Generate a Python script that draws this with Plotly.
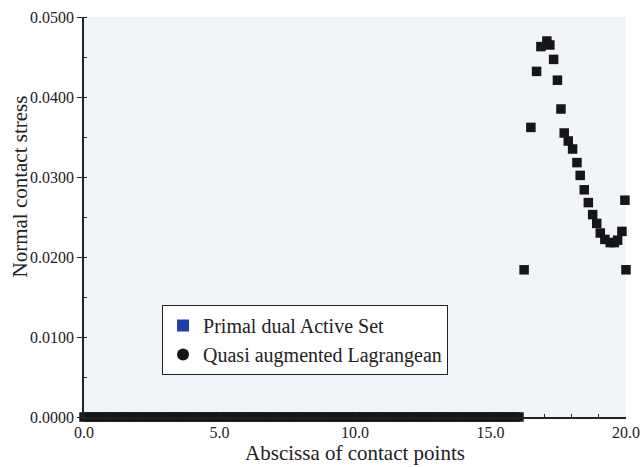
import plotly.graph_objects as go

# Data
zero_x = [round(i * 0.15, 2) for i in range(0, 108)]  # contact points with zero stress, 0..16.05
zero_y = [0.0] * len(zero_x)
peak_x = [16.24, 16.49, 16.70, 16.86, 17.08, 17.19, 17.33, 17.47, 17.60, 17.72,
          17.87, 18.03, 18.19, 18.31, 18.46, 18.61, 18.77, 18.92, 19.05, 19.22,
          19.42, 19.57, 19.69, 19.85, 19.96, 20.0]
peak_y = [0.0184, 0.0362, 0.0432, 0.0463, 0.0470, 0.0465, 0.0447, 0.0421, 0.0385, 0.0355,
          0.0345, 0.0335, 0.0318, 0.0302, 0.0284, 0.0268, 0.0253, 0.0242, 0.0230, 0.0222,
          0.0218, 0.0218, 0.0221, 0.0232, 0.0271, 0.0184]
x_vals = zero_x + peak_x
y_vals = zero_y + peak_y

x_ticks = [0, 5, 10, 15, 20]
x_tick_labels = ["0.0", "5.0", "10.0", "15.0", "20.0"]
y_ticks = [0, 0.01, 0.02, 0.03, 0.04, 0.05]
y_tick_labels = ["0.0000", "0.0100", "0.0200", "0.0300", "0.0400", "0.0500"]

font = "Liberation Serif"

fig = go.Figure()
fig.add_trace(go.Scatter(x=x_vals, y=y_vals, mode="markers", name="Primal dual Active Set",
                         marker=dict(symbol="square", size=8, color="#1f3fa8"),
                         showlegend=False, cliponaxis=False))
fig.add_trace(go.Scatter(x=x_vals, y=y_vals, mode="markers", name="Quasi augmented Lagrangean",
                         marker=dict(symbol="square", size=9.5, color="#161616"),
                         showlegend=False, cliponaxis=False))
# legend entries
fig.add_trace(go.Scatter(x=[None], y=[None], mode="markers", name="Primal dual Active Set",
                         marker=dict(symbol="square", size=8, color="#1f3fa8")))
fig.add_trace(go.Scatter(x=[None], y=[None], mode="markers", name="Quasi augmented Lagrangean",
                         marker=dict(symbol="circle", size=8, color="#161616")))

fig.update_layout(
    width=642, height=467,
    margin=dict(l=84, r=16, t=17, b=50),
    paper_bgcolor="white",
    plot_bgcolor="#f1f4f9",
    font=dict(family=font, color="#222", size=16),
    showlegend=True,
    legend=dict(x=0.144, y=0.28, xanchor="left", yanchor="top",
                bgcolor="white", bordercolor="#222", borderwidth=1,
                font=dict(family=font, size=20), itemsizing="constant",
                tracegroupgap=0),
    xaxis=dict(range=[0, 20], tickvals=x_ticks, ticktext=x_tick_labels, automargin=False,
               showgrid=False, zeroline=False, showline=True, linecolor="#222", linewidth=1.5,
               ticks="inside", ticklen=5, tickcolor="#222",
               minor=dict(ticks="inside", ticklen=3, dtick=1, tickcolor="#222"),
               title=dict(text="Abscissa of contact points", font=dict(family=font, size=21), standoff=0),
               tickfont=dict(family=font, size=16)),
    yaxis=dict(range=[0, 0.05], tickvals=y_ticks, ticktext=y_tick_labels, automargin=False,
               showgrid=False, zeroline=False, showline=True, linecolor="#222", linewidth=1.5,
               ticks="outside", ticklen=5, tickcolor="#222",
               minor=dict(ticks="inside", ticklen=3, dtick=0.005, tickcolor="#222"),
               tickfont=dict(family=font, size=16)),
    annotations=[dict(text="Normal contact stress", textangle=-90, showarrow=False,
                      xref="paper", yref="paper", x=-0.119, y=0.575,
                      xanchor="center", yanchor="middle",
                      font=dict(family=font, size=21, color="#222"))],
)

fig.write_html("out.html", config={"displayModeBar": False},
               post_script="document.body.style.margin='0';")
